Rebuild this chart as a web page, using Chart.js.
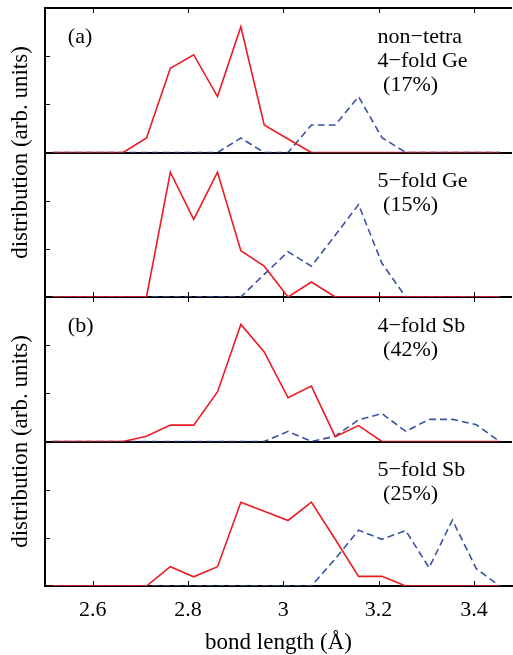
<!DOCTYPE html>
<html>
<head>
<meta charset="utf-8">
<script src="https://cdn.jsdelivr.net/npm/chart.js@4.4.1/dist/chart.umd.min.js"></script>
<style>
  html, body { margin: 0; padding: 0; background: #fff; }
</style>
</head>
<body>
<canvas id="bondChart" width="513" height="655"></canvas>
<script>
// bond length bins (Å)
const bondLength = [2.516, 2.565, 2.614, 2.664, 2.713, 2.763, 2.812, 2.862, 2.911, 2.960,
                    3.010, 3.059, 3.109, 3.158, 3.207, 3.257, 3.306, 3.355, 3.405, 3.454];

// (a) non-tetra 4-fold Ge
const ge4Red  = [0, 0, 0, 0, 0.30, 1.75, 2.03, 1.16, 2.61, 0.57, 0.28, 0, 0, 0, 0, 0, 0, 0, 0, 0];
const ge4Blue = [0, 0, 0, 0, 0, 0, 0, 0, 0.30, 0, 0, 0.57, 0.57, 1.16, 0.31, 0, 0, 0, 0, 0];
// (a) 5-fold Ge
const ge5Red  = [0, 0, 0, 0, 0, 2.59, 1.61, 2.59, 0.96, 0.64, 0, 0.31, 0, 0, 0, 0, 0, 0, 0, 0];
const ge5Blue = [0, 0, 0, 0, 0, 0, 0, 0, 0, 0.47, 0.94, 0.64, 1.28, 1.92, 0.70, 0, 0, 0, 0, 0];
// (b) 4-fold Sb
const sb4Red  = [0, 0, 0, 0, 0.11, 0.34, 0.34, 1.03, 2.43, 1.86, 0.91, 1.15, 0.10, 0.33, 0, 0, 0, 0, 0, 0];
const sb4Blue = [0, 0, 0, 0, 0, 0, 0, 0, 0, 0, 0.21, 0, 0.11, 0.45, 0.58, 0.21, 0.46, 0.46, 0.35, 0];
// (b) 5-fold Sb
const sb5Red  = [0, 0, 0, 0, 0, 0.40, 0.19, 0.40, 1.74, 1.55, 1.36, 1.74, 0.97, 0.20, 0.20, 0, 0, 0, 0, 0];
const sb5Blue = [0, 0, 0, 0, 0, 0, 0, 0, 0, 0, 0, 0, 0.56, 1.16, 0.97, 1.15, 0.38, 1.37, 0.36, 0];

const xTicks = [2.6, 2.8, 3, 3.2, 3.4];
const yTicks = [0, 1, 2, 3];

const panelTags  = ["(a)", "", "(b)", ""];
const panelNotes = [
  ["non\u2212tetra", "4\u2212fold Ge", " (17%)"],
  ["5\u2212fold Ge", " (15%)"],
  ["4\u2212fold Sb", " (42%)"],
  ["5\u2212fold Sb", " (25%)"]
];
const yTitle = "distribution (arb. units)";
const xTitle = "bond length (\u00c5)";

const SERIF = '"Liberation Serif", "DejaVu Serif", serif';
const RED = "#ec1c24";
const BLUE = "#3953a4";

const panelIds = ["y1", "y2", "y3", "y4"];
const redSeries = [ge4Red, ge5Red, sb4Red, sb5Red];
const blueSeries = [ge4Blue, ge5Blue, sb4Blue, sb5Blue];

function pts(arr) {
  return arr.map((v, i) => ({ x: bondLength[i], y: v }));
}

function panelAxis(w) {
  return {
    type: "linear", position: "left",
    stack: "panels", stackWeight: 1, weight: w,
    min: 0, max: 3,
    afterBuildTicks: s => { s.ticks = yTicks.map(v => ({ value: v })); },
    ticks: { display: false },
    grid: {
      drawTicks: false, lineWidth: 2,
      color: c => (c.tick && (c.tick.value === 0 || c.tick.value === 3)) ? "#000" : "rgba(0,0,0,0)"
    },
    border: { color: "#000", width: 2 }
  };
}

// inward tick marks, panel notes and the two rotated y titles
const decor = {
  id: "decor",
  afterDatasetsDraw(chart) {
    const { ctx, chartArea, scales } = chart;
    const x = scales.x;
    ctx.save();
    ctx.strokeStyle = "#000";
    ctx.lineWidth = 1;
    const tl = 5;
    panelIds.forEach(id => {
      yTicks.filter(v => v > 0 && v < 3).forEach(v => {
        const py = Math.round(scales[id].getPixelForValue(v)) + 0.5;
        ctx.beginPath(); ctx.moveTo(chartArea.left, py); ctx.lineTo(chartArea.left + tl, py); ctx.stroke();
      });
    });
    const edges = [[scales.y1.top, 1], [scales.y2.bottom, -1], [scales.y3.top, 1], [scales.y4.bottom, -1]];
    xTicks.forEach(v => {
      const px = Math.round(x.getPixelForValue(v)) + 0.5;
      edges.forEach(([py, dir]) => {
        ctx.beginPath(); ctx.moveTo(px, py); ctx.lineTo(px, py + dir * tl); ctx.stroke();
      });
    });

    ctx.fillStyle = "#000";
    ctx.textBaseline = "middle";
    ctx.textAlign = "left";
    ctx.font = "22px " + SERIF;
    panelIds.forEach((id, i) => {
      const s = scales[id];
      if (panelTags[i]) ctx.fillText(panelTags[i], x.getPixelForValue(2.548), s.getPixelForValue(2.4));
      panelNotes[i].forEach((t, j) => {
        ctx.fillText(t, x.getPixelForValue(3.198), s.getPixelForValue(2.4 - 0.5 * j));
      });
    });

    ctx.font = "23px " + SERIF;
    ctx.textAlign = "center";
    [scales.y1.bottom, scales.y3.bottom].forEach(cy => {
      ctx.save();
      ctx.translate(21, cy);
      ctx.rotate(-Math.PI / 2);
      ctx.fillText(yTitle, 0, 0);
      ctx.restore();
    });
    ctx.restore();
  }
};

const datasets = [];
panelIds.forEach((id, i) => {
  datasets.push({ data: pts(redSeries[i]), yAxisID: id, borderColor: RED, borderWidth: 1.6,
                  pointRadius: 0, tension: 0, fill: false });
  datasets.push({ data: pts(blueSeries[i]), yAxisID: id, borderColor: BLUE, borderWidth: 1.6,
                  borderDash: [7, 4], pointRadius: 0, tension: 0, fill: false });
});

const scales = {
  x: {
    type: "linear", position: "bottom", min: 2.5, max: 3.48,
    afterBuildTicks: s => { s.ticks = xTicks.map(v => ({ value: v })); },
    afterFit: s => { s.height = 69; },
    ticks: { color: "#000", font: { family: SERIF, size: 22 }, padding: 11,
             callback: v => String(v) },
    grid: { drawOnChartArea: false, drawTicks: false },
    border: { color: "#000", width: 2 },
    title: { display: true, text: xTitle, color: "#000",
             font: { family: SERIF, size: 23 }, padding: { top: 0, bottom: -2 } }
  }
};
panelIds.forEach((id, i) => { scales[id] = panelAxis(4 - i); });

new Chart(document.getElementById("bondChart"), {
  type: "line",
  data: { datasets },
  options: {
    responsive: false,
    animation: false,
    layout: { padding: { left: 45, right: 1, top: 8, bottom: 0 } },
    plugins: { legend: { display: false }, tooltip: { enabled: false } },
    scales
  },
  plugins: [decor]
});
</script>
</body>
</html>
